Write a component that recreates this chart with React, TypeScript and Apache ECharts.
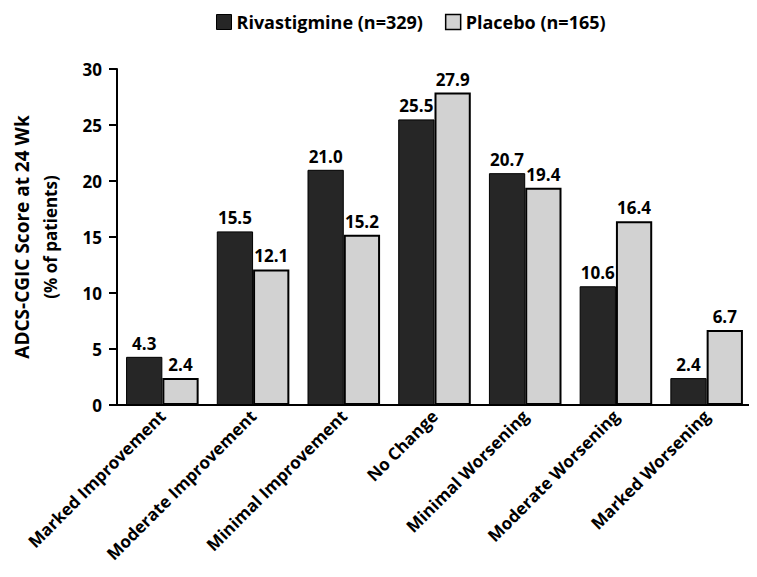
import React, { useEffect, useRef } from "react";
import * as echarts from "echarts";

const categories = [
  "Marked Improvement",
  "Moderate Improvement",
  "Minimal Improvement",
  "No Change",
  "Minimal Worsening",
  "Moderate Worsening",
  "Marked Worsening",
];
const rivastigmine = [4.3, 15.5, 21.0, 25.5, 20.7, 10.6, 2.4];
const placebo = [2.4, 12.1, 15.2, 27.9, 19.4, 16.4, 6.7];
const seriesNames = ["Rivastigmine (n=329)", "Placebo (n=165)"];

const FONT = "Open Sans";

export default function App() {
  const ref = useRef<HTMLDivElement>(null);
  useEffect(() => {
    if (!ref.current) return;
    const chart = echarts.init(ref.current, undefined, { renderer: "svg" });
    const labelStyle = {
      show: true,
      position: "top" as const,
      distance: 5,
      color: "#000",
      fontFamily: FONT,
      fontWeight: "bold" as const,
      fontSize: 17,
      formatter: (p: any) => Number(p.value).toFixed(1),
    };
    chart.setOption({
      animation: false,
      backgroundColor: "#fff",
      textStyle: { fontFamily: FONT },
      legend: {
        top: 8,
        left: 211,
        itemWidth: 15,
        itemHeight: 15,
        itemGap: 22,
        icon: "rect",
        textStyle: { fontFamily: FONT, fontSize: 18, fontWeight: "bold", color: "#000" },
        data: [
          { name: seriesNames[0], itemStyle: { color: "#262626", borderColor: "#000", borderWidth: 1 } },
          { name: seriesNames[1], itemStyle: { color: "#d2d2d2", borderColor: "#000", borderWidth: 1.5 } },
        ],
      },
      grid: { left: 117, right: 5, top: 69, bottom: 172, containLabel: false },
      xAxis: {
        type: "category",
        data: categories,
        axisLine: { lineStyle: { color: "#000", width: 2 } },
        axisTick: { show: false },
        axisLabel: {
          rotate: 45,
          interval: 0,
          margin: 8,
          color: "#000",
          fontFamily: FONT,
          fontSize: 17,
          fontWeight: "bold",
        },
      },
      yAxis: {
        type: "value",
        min: 0,
        max: 30,
        interval: 5,
        name: "{a|ADCS-CGIC Score at 24 Wk}\n{b|(% of patients)}",
        nameLocation: "middle",
        nameGap: 53,
        nameTextStyle: {
          color: "#000",
          fontFamily: FONT,
          fontWeight: "bold",
          rich: {
            a: { fontSize: 19, lineHeight: 28, fontWeight: "bold", fontFamily: FONT, color: "#000" },
            b: { fontSize: 17, lineHeight: 28, fontWeight: "bold", fontFamily: FONT, color: "#000" },
          },
        },
        splitLine: { show: false },
        axisLine: { show: true, lineStyle: { color: "#000", width: 2 } },
        axisTick: { show: true, length: 8, lineStyle: { color: "#000", width: 2 } },
        axisLabel: {
          color: "#000",
          fontFamily: FONT,
          fontSize: 17,
          fontWeight: "bold",
          margin: 15,
        },
      },
      series: [
        {
          name: seriesNames[0],
          type: "bar",
          data: rivastigmine,
          barWidth: "40%",
          barGap: "0%",
          itemStyle: { color: "#262626", borderColor: "#000", borderWidth: 1 },
          label: labelStyle,
        },
        {
          name: seriesNames[1],
          type: "bar",
          data: placebo,
          barWidth: "40%",
          barGap: "0%",
          itemStyle: { color: "#d2d2d2", borderColor: "#000", borderWidth: 2 },
          label: labelStyle,
        },
      ],
    });
    return () => chart.dispose();
  }, []);
  return <div ref={ref} style={{ width: 757, height: 577, marginLeft: -8, marginTop: -8 }} />;
}
